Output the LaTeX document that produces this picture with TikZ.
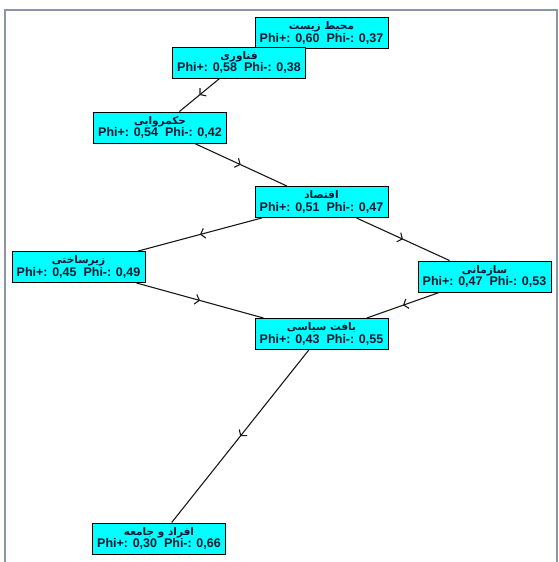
\documentclass[tikz,border=0pt]{standalone}
\usepackage{fontspec}
\setmainfont{Liberation Sans}
\newfontfamily\arabicfont[Script=Arabic]{DejaVu Sans}
\TeXXeTstate=1
\usetikzlibrary{arrows.meta,decorations.markings}
\definecolor{aqua}{HTML}{00FFFF}
\definecolor{framegray}{HTML}{8A96A4}
\definecolor{ink}{HTML}{101830}
\tikzset{
  crit/.style={draw=black, line width=1pt, fill=aqua, minimum width=133pt,
    minimum height=31pt, inner sep=0.5pt, align=center, text=ink,
    font=\fontsize{12.5}{12.5}\selectfont\bfseries},
  link/.style={draw=black!90, line width=1.1pt, postaction={decorate},
    decoration={markings, mark=at position 0.5 with {\arrow{Straight Barb[length=4pt,width=10pt,line width=1.1pt]}}}}
}
\newcommand\critlabel[3]{{\arabicfont\fontsize{10.5}{11}\selectfont\bfseries\beginR #1\endR}\\Phi+: #2 \ Phi-: #3}
\begin{document}
\begin{tikzpicture}[x=1pt,y=-1pt]
\useasboundingbox (0,0) rectangle (558,562);
\draw[framegray, line width=2pt] (5,562) -- (5,10) -- (557,10) -- (557,562);
\node[crit] (env) at (321.5,33) {\critlabel{محیط زیست}{0,60}{0,37}};
\node[crit] (fan) at (239,62.5) {\critlabel{فناوری}{0,58}{0,38}};
\node[crit] (hok) at (160,127.5) {\critlabel{حکمروایی}{0,54}{0,42}};
\node[crit] (eqt) at (321.5,202) {\critlabel{اقتصاد}{0,51}{0,47}};
\node[crit] (zir) at (78.5,267) {\critlabel{زیرساختی}{0,45}{0,49}};
\node[crit] (saz) at (484.5,276.5) {\critlabel{سازمانی}{0,47}{0,53}};
\node[crit] (baf) at (321.5,334) {\critlabel{بافت سیاسی}{0,43}{0,55}};
\node[crit] (afr) at (159,538.5) {\critlabel{افراد و جامعه}{0,30}{0,66}};
\draw[link] (fan) -- (hok);
\draw[link] (hok) -- (eqt);
\draw[link] (eqt) -- (zir);
\draw[link] (eqt) -- (saz);
\draw[link] (zir) -- (baf);
\draw[link] (saz) -- (baf);
\draw[link] (baf) -- (afr);
\end{tikzpicture}
\end{document}
